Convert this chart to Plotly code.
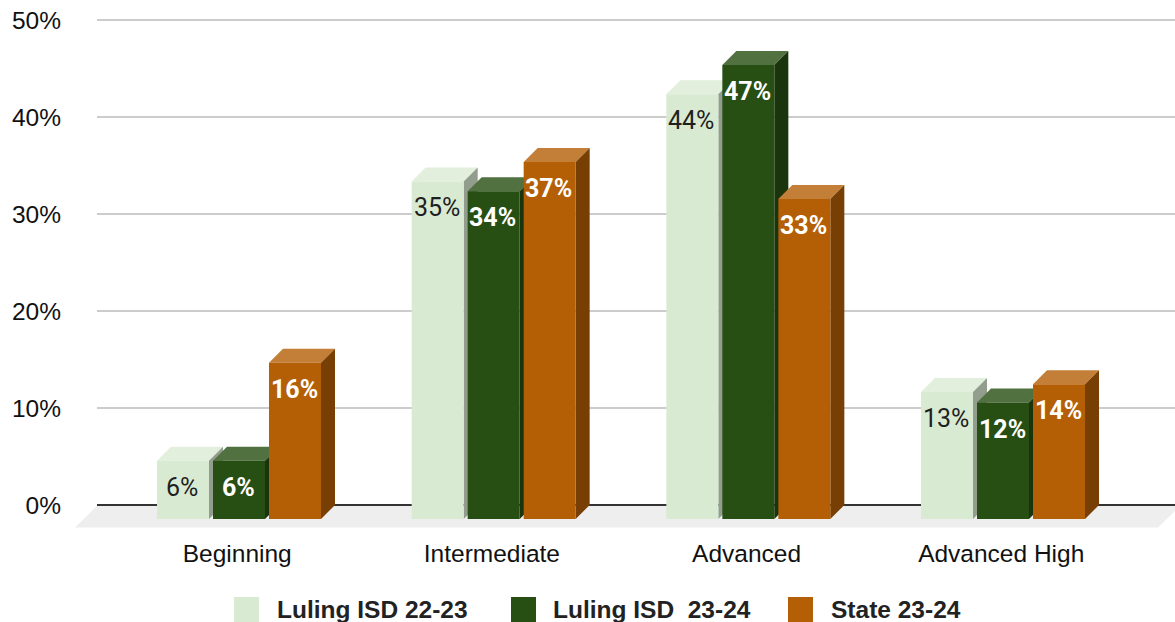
import plotly.graph_objects as go

categories = ["Beginning", "Intermediate", "Advanced", "Advanced High"]
series_names = ["Luling ISD 22-23", "Luling ISD  23-24", "State 23-24"]
luling_22_23 = [6.0, 34.8, 43.8, 13.1]
luling_23_24 = [6.0, 33.8, 46.8, 12.0]
state_23_24 = [16.1, 36.8, 33.0, 13.9]
tick_values = [0, 10, 20, 30, 40, 50]

W, H = 1175, 622
PL, PR, PT, PB = 97, 1175, 10, 530      # plot area in page pixels
X0_PX, X_STEP = 239.0, 254.67           # first group centre, group spacing
Y0_PX, Y_STEP = 505.0, 9.7              # zero line, pixels per percent
DEPTH = 14.0                            # 3-D offset in pixels

xr = [(PL - X0_PX) / X_STEP, (PR - X0_PX) / X_STEP]
yr = [(Y0_PX - PB) / Y_STEP, (Y0_PX - PT) / Y_STEP]
dx, dy = DEPTH / X_STEP, DEPTH / Y_STEP
slot = 56.0 / X_STEP
bar_w = 52.0 / X_STEP

paper_x = lambda p: (p - PL) / (PR - PL)
paper_y = lambda p: (PB - p) / (PB - PT)

front = ["#d9ead3", "#274e13", "#b45f06"]
top = ["#e2efdd", "#527140", "#c37f38"]
side = ["#929d8e", "#1a340d", "#783f04"]
label_col = ["#1f1f1f", "#ffffff", "#ffffff"]
values = [luling_22_23, luling_23_24, state_23_24]

fig = go.Figure()
shapes = []
annotations = []

# floor
shapes.append(dict(
    type="path", xref="paper", yref="paper", layer="below", line_width=0, fillcolor="#eeeeee",
    path="M%f,%f L%f,%f L%f,%f L%f,%f Z" % (
        paper_x(75), paper_y(527.5), paper_x(97), paper_y(506),
        paper_x(1180), paper_y(506), paper_x(1158), paper_y(527.5)),
))

for s, (name, vals) in enumerate(zip(series_names, values)):
    offs = (s - 1) * slot
    fig.add_trace(go.Bar(
        x=list(range(len(categories))), y=vals, base=[-dy] * len(vals), name=name,
        marker=dict(color=front[s], line_width=0), showlegend=False, hoverinfo="skip",
    ))
    for i, v in enumerate(vals):
        l = i + offs - bar_w / 2
        r = i + offs + bar_w / 2
        t = v - dy
        b = -dy
        shapes.append(dict(
            type="path", xref="x", yref="y", layer="between", line_width=0, fillcolor=top[s],
            path="M%f,%f L%f,%f L%f,%f L%f,%f Z" % (l, t, l + dx, t + dy, r + dx, t + dy, r, t)))
        shapes.append(dict(
            type="path", xref="x", yref="y", layer="between", line_width=0, fillcolor=side[s],
            path="M%f,%f L%f,%f L%f,%f L%f,%f Z" % (r, t, r + dx, t + dy, r + dx, b + dy, r, b)))
        pct = "%d%%" % round(v)
        annotations.append(dict(
            x=i + offs, y=t, xref="x", yref="y", yshift=-26.5, xshift=-1, showarrow=False,
            text=pct if s == 0 else "<b>%s</b>" % pct,
            font=dict(family="Roboto", size=25, color=label_col[s]),
        ))

# legend
legend_sq = [234, 511, 788]
legend_tx = [275, 551, 829]
for s, name in enumerate(series_names):
    shapes.append(dict(
        type="rect", xref="paper", yref="paper", line_width=0, fillcolor=front[s],
        x0=paper_x(legend_sq[s]), x1=paper_x(legend_sq[s] + 25),
        y0=paper_y(622), y1=paper_y(597)))
    annotations.append(dict(
        x=paper_x(legend_tx[s]), y=paper_y(609), xref="paper", yref="paper",
        xanchor="left", yanchor="middle", showarrow=False,
        text="<b>%s</b>" % name.replace("  ", "&nbsp; "),
        font=dict(family="Liberation Sans", size=24.5, color="#222222"),
    ))

fig.update_layout(
    width=W, height=H, margin=dict(l=PL, r=W - PR, t=PT, b=H - PB, pad=0),
    paper_bgcolor="#ffffff", plot_bgcolor="rgba(0,0,0,0)",
    barmode="group", bargap=1 - 3 * slot, bargroupgap=4.0 / 56.0,
    showlegend=False, shapes=shapes, annotations=annotations,
    xaxis=dict(range=xr, tickmode="array", tickvals=[i - 0.007 for i in range(len(categories))],
               ticktext=categories, showgrid=False, zeroline=False, showline=False,
               ticklen=0, ticklabelstandoff=6,
               tickfont=dict(family="Liberation Sans", size=24.5, color="#111111")),
    yaxis=dict(range=yr, tickmode="array", tickvals=tick_values,
               ticktext=["%d%%" % t for t in tick_values],
               showgrid=True, gridcolor="#cccccc", gridwidth=2,
               zeroline=True, zerolinecolor="#333333", zerolinewidth=2, showline=False,
               ticklen=0, ticklabelstandoff=35,
               tickfont=dict(family="Liberation Sans", size=24.5, color="#111111")),
)

fig.write_html("out.html", config=dict(displayModeBar=False),
               post_script="document.body.style.margin='0';")
